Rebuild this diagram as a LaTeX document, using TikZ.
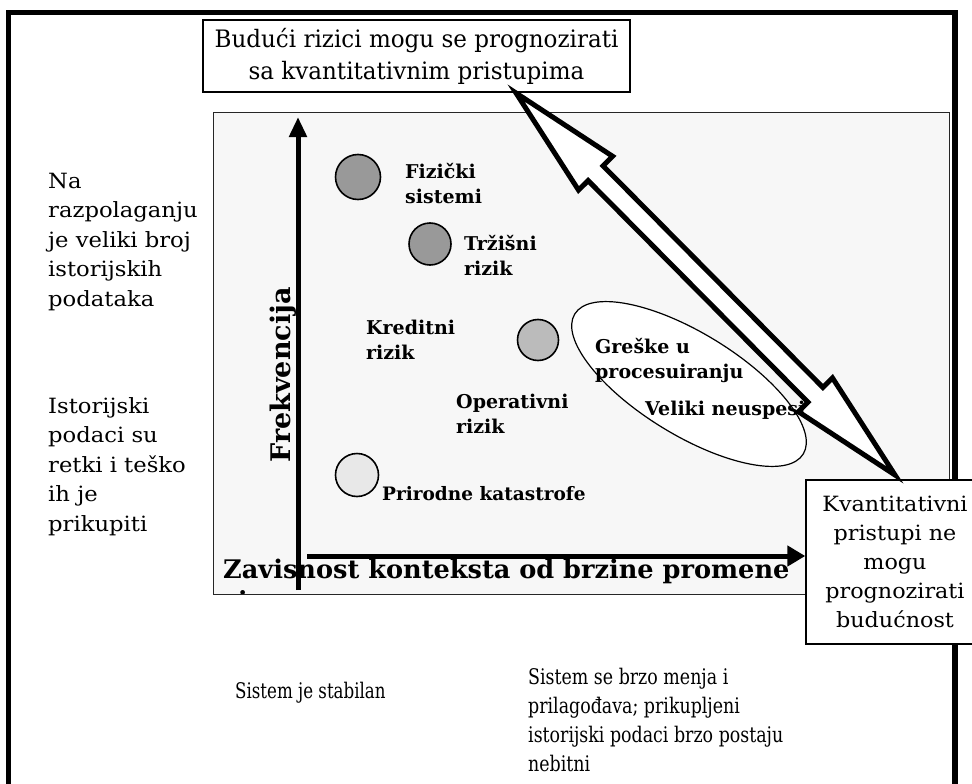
\documentclass[tikz,border=0pt]{standalone}
\usepackage{fontspec}
\setmainfont{DejaVu Serif}
\usetikzlibrary{arrows.meta,shapes.geometric,calc}
\definecolor{darkc}{HTML}{999999}
\definecolor{midc}{HTML}{BBBBBB}
\definecolor{lightc}{HTML}{E8E8E8}
\definecolor{panelc}{HTML}{F7F7F7}
\begin{document}
\begin{tikzpicture}[x=1pt,y=-1pt,
  reg/.style={inner sep=0pt, align=left, anchor=base west},
  lab/.style={inner sep=0pt, align=left, anchor=base west, font=\bfseries\fontsize{19}{24.5}\selectfont},
  blob/.style={circle, draw, line width=1.6pt, inner sep=0pt},
  boxed/.style={draw, line width=1.4pt, fill=white, align=center, inner sep=0pt}]
\useasboundingbox (0,0) rectangle (972,784);
\fill[white] (0,0) rectangle (972,784);
% outer frame
\draw[line width=5.5pt] (8.5,12.5) rectangle (955,800);
% panel
\node[draw=black!85, line width=1.4pt, fill=panelc, minimum width=736pt, minimum height=482pt, inner sep=0pt, anchor=north west] (panel) at (213,112) {};
% top box
\node[boxed, minimum width=427pt, minimum height=72pt, font=\fontsize{24}{32}\selectfont\addfontfeatures{FakeStretch=0.96}] (top) at (416.5,56) {Budući rizici mogu se prognozirati\\sa kvantitativnim pristupima};
% right box
\node[boxed, minimum width=178pt, minimum height=164pt, font=\fontsize{21}{29}\selectfont\addfontfeatures{FakeStretch=1.06}] (rbox) at (895,562) {Kvantitativni\\pristupi ne\\mogu\\prognozirati\\budućnost};
% axes
\coordinate (o) at (298,590);
\coordinate (ytop) at (298,117);
\coordinate (xs) at (307,556);
\draw[line width=5pt, -{Triangle[length=20pt,width=17pt]}] (o) -- (ytop);
\draw[line width=5pt, -{Triangle[length=18pt,width=20pt]}] (xs) -- (xs -| rbox.west);
\node[font=\bfseries\fontsize{27}{30}\selectfont, rotate=90, inner sep=0pt, anchor=base] (freq) at (290,375) {Frekvencija};
\node[font=\bfseries\fontsize{25.6}{30}\selectfont, inner sep=0pt, anchor=base west] (xlab) at (223,578) {Zavisnost konteksta od brzine promene};
\begin{scope}
\clip (214,113) rectangle (948,593);
\node[font=\bfseries\fontsize{25}{30}\selectfont, inner sep=0pt, anchor=base west] (frag) at (238,609) {i};
\end{scope}
% circles
\node[blob, fill=darkc, minimum size=45pt] (c1) at (358,177) {};
\node[blob, fill=darkc, minimum size=42pt] (c2) at (430,244) {};
\node[blob, fill=midc, minimum size=41pt] (c3) at (538,340) {};
\node[blob, fill=lightc, minimum size=43pt] (c4) at (357,475) {};
% labels (anchor = baseline of last line)
\node[lab] (l1) at (405,203) {Fizički\\sistemi};
\node[lab] (l2) at (464,275) {Tržišni\\rizik};
\node[lab] (l3) at (366,359) {Kreditni\\rizik};
\node[lab] (l4) at (456,433) {Operativni\\rizik};
\node[lab, font=\bfseries\fontsize{18.5}{24.5}\selectfont] (l5) at (382,500) {Prirodne katastrofe};
% ellipse
\node[ellipse, draw, line width=1.2pt, fill=white, minimum width=268pt, minimum height=102pt, inner sep=0pt, rotate=-31.5] (ell) at (689,384) {};
% double block arrow
\coordinate (t1) at (516,93);
\coordinate (t2) at (895,475);
\coordinate (b1) at ($(t1)!113pt!(t2)$);
\coordinate (b2) at ($(t2)!113pt!(t1)$);
\draw[line width=5pt, fill=white, line join=miter, miter limit=20]
 (t1) -- ($(b1)!24pt!90:(t2)$) -- ($(b1)!10.5pt!90:(t2)$) -- ($(b2)!10.5pt!-90:(t1)$) -- ($(b2)!24pt!-90:(t1)$) -- (t2)
 -- ($(b2)!24pt!90:(t1)$) -- ($(b2)!10.5pt!90:(t1)$) -- ($(b1)!10.5pt!-90:(t2)$) -- ($(b1)!24pt!-90:(t2)$) -- cycle;
\node[lab] (l6) at (595,378) {Greške u\\procesuiranju};
\node[lab] (l7) at (645,415) {Veliki neuspesi};
% left texts (anchor = baseline of last line)
\node[reg, font=\fontsize{21}{29.5}\selectfont\addfontfeatures{FakeStretch=1.08}] (left1) at (48,306) {Na\\razpolaganju\\je veliki broj\\istorijskih\\podataka};
\node[reg, font=\fontsize{21}{29.5}\selectfont\addfontfeatures{FakeStretch=1.08}] (left2) at (48,531) {Istorijski\\podaci su\\retki i teško\\ih je\\prikupiti};
% bottom texts
\node[reg, font=\fontsize{21.5}{29}\selectfont\addfontfeatures{FakeStretch=0.775}] (stab) at (235,698) {Sistem je stabilan};
\node[reg, font=\fontsize{21.5}{29}\selectfont\addfontfeatures{FakeStretch=0.81}] (brzo) at (528,771) {Sistem se brzo menja i\\prilagođava; prikupljeni\\istorijski podaci brzo postaju\\nebitni};
\end{tikzpicture}
\end{document}
